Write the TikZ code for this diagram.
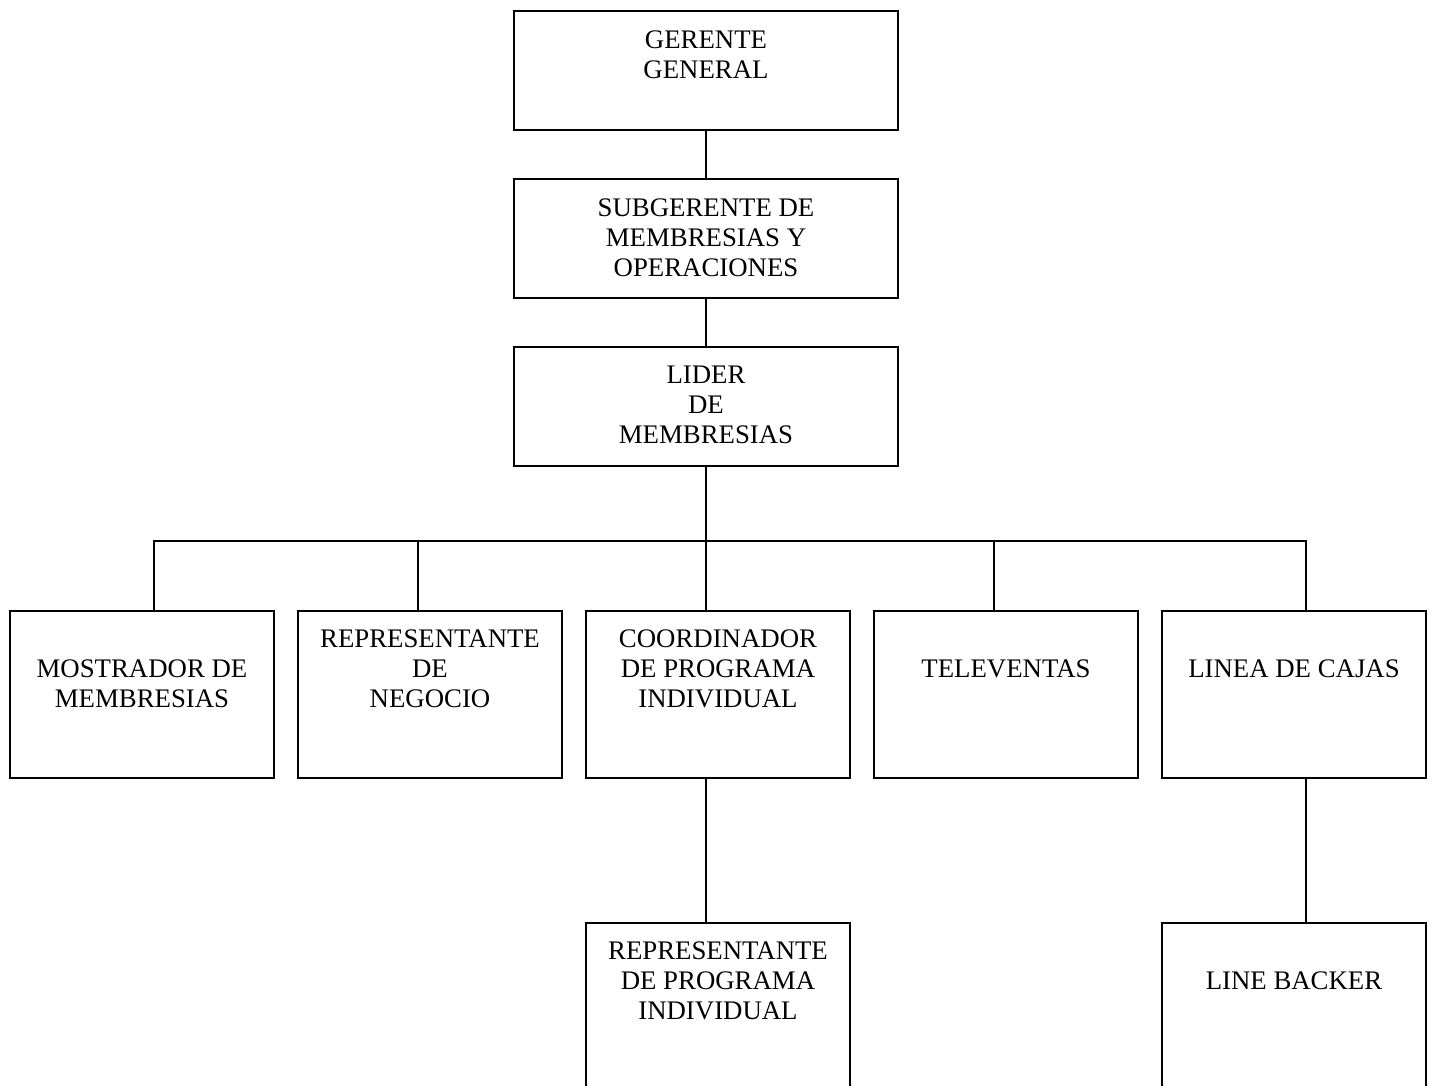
\documentclass[tikz,border=0pt]{standalone}
\usepackage{fontspec}
\setmainfont{Liberation Serif}
\usetikzlibrary{positioning,calc}
\definecolor{orgInk}{HTML}{000000}
\tikzset{
  every picture/.style={font=\fontsize{13.4}{15}\selectfont, text=orgInk},
  org box/.style={draw=orgInk, line width=1pt, fill=white, inner sep=0pt},
  org top/.style={org box, minimum width=192pt, minimum height=59.5pt},
  org row/.style={org box, minimum width=132pt, minimum height=83.5pt},
  org low/.style={org box, minimum width=132pt, minimum height=100pt},
  org text/.style={align=center, inner sep=0pt},
  org line/.style={draw=orgInk, line width=1pt}
}

\begin{document}
\begin{tikzpicture}[x=0.5pt,y=-0.5pt]
  \useasboundingbox (0,0) rectangle (1432,1086);
  \clip (0,0) rectangle (1432,1086);
  % upper chain
  \node[org top] (gerente) at (706,70.5) {};
  \node[org top] (subgerente) at (706,238.5) {};
  \node[org top] (lider) at (706,406.5) {};
  \node[org text] (gerente-t) at ($(gerente.north)+(0,45)$) {GERENTE\\GENERAL};
  \node[org text] (subgerente-t) at ($(subgerente.north)+(0,60)$) {SUBGERENTE DE\\MEMBRESIAS Y\\OPERACIONES};
  \node[org text] (lider-t) at ($(lider.north)+(0,59)$) {LIDER\\DE\\MEMBRESIAS};
  % second level
  \node[org row] (mostrador) at (142,694.5) {};
  \node[org row] (negocio) at (430,694.5) {};
  \node[org row] (coordinador) at (718,694.5) {};
  \node[org row] (televentas) at (1006,694.5) {};
  \node[org row] (cajas) at (1294,694.5) {};
  \node[org text] (mostrador-t) at ($(mostrador.north)+(0,74)$) {MOSTRADOR DE\\MEMBRESIAS};
  \node[org text] (negocio-t) at ($(negocio.north)+(0,59)$) {REPRESENTANTE\\DE\\NEGOCIO};
  \node[org text] (coordinador-t) at ($(coordinador.north)+(0,59)$) {COORDINADOR\\DE PROGRAMA\\INDIVIDUAL};
  \node[org text] (televentas-t) at ($(televentas.north)+(0,59)$) {TELEVENTAS};
  \node[org text] (cajas-t) at ($(cajas.north)+(0,59)$) {LINEA DE CAJAS};
  % third level
  \node[org low] (programa) at (718,1023) {};
  \node[org low] (backer) at (1294,1023) {};
  \node[org text] (programa-t) at ($(programa.north)+(0,59)$) {REPRESENTANTE\\DE PROGRAMA\\INDIVIDUAL};
  \node[org text] (backer-t) at ($(backer.north)+(0,59)$) {LINE BACKER};
  % connectors
  \draw[org line] (gerente) -- (subgerente);
  \draw[org line] (subgerente) -- (lider);
  \coordinate (bus) at ($(lider.south)+(0,74)$);
  \draw[org line] (lider.south) -- (bus);
  \draw[org line] (bus) -| ($(mostrador.north)+(12,0)$);
  \draw[org line] (bus) -| ($(negocio.north)+(-12,0)$);
  \draw[org line] (bus) -| ($(coordinador.north)+(-12,0)$);
  \draw[org line] (bus) -| ($(televentas.north)+(-12,0)$);
  \draw[org line] (bus) -| ($(cajas.north)+(12,0)$);
  \draw[org line] ($(coordinador.south)+(-12,0)$) -- ($(programa.north)+(-12,0)$);
  \draw[org line] ($(cajas.south)+(12,0)$) -- ($(backer.north)+(12,0)$);
\end{tikzpicture}
\end{document}
